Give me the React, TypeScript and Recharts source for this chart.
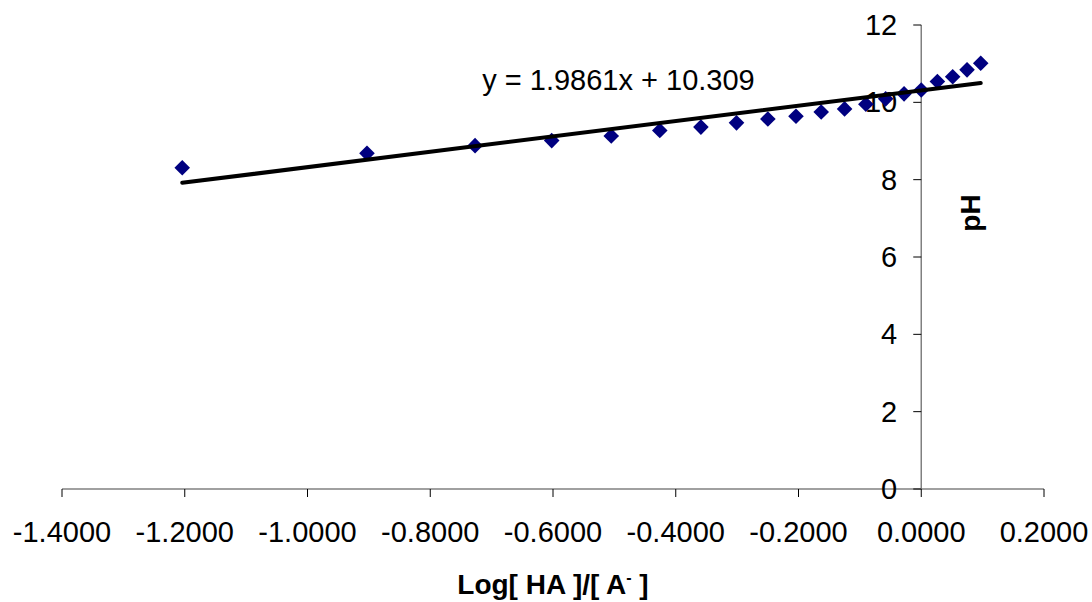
import React from 'react';
import { ScatterChart, Scatter, XAxis, YAxis, ReferenceLine, ReferenceDot, Label } from 'recharts';

const logRatio = [-1.2041, -0.9031, -0.727, -0.6021, -0.5051, -0.426, -0.359, -0.301, -0.2499, -0.2041, -0.163, -0.1249, -0.0902, -0.058, -0.028, 0.0, 0.0263, 0.0512, 0.0746, 0.0969];
const pHValues = [8.31, 8.68, 8.88, 9.01, 9.13, 9.27, 9.36, 9.47, 9.57, 9.64, 9.75, 9.83, 9.95, 10.09, 10.22, 10.32, 10.54, 10.66, 10.84, 11.01];
const trendX = [-1.2041, 0.0969];
const trendY = [7.918, 10.501];
const xTicks = [-1.4, -1.2, -1.0, -0.8, -0.6, -0.4, -0.2, 0, 0.2];
const yTicks = [0, 2, 4, 6, 8, 10, 12];
const equationText = 'y = 1.9861x + 10.309';
const equationPos = { x: -0.7153, y: 10.32 };

const FONT = '"Liberation Sans", Arial, sans-serif';

const points = logRatio.map((x, i) => ({ x, y: pHValues[i] }));
const trend = trendX.map((x, i) => ({ x, y: trendY[i] }));

const Diamond = (props: any) => {
  const { cx, cy } = props;
  const r = 7.8;
  return <path d={`M${cx},${cy - r}L${cx + r},${cy}L${cx},${cy + r}L${cx - r},${cy}Z`} fill="#000080" />;
};

const NoShape = () => null;

const XTitle = (props: any) => {
  const vb = props.viewBox;
  return (
    <text x={vb.x + vb.width / 2} y={vb.y + 105} textAnchor="middle" fontFamily={FONT} fontWeight="bold" fontSize={28} fill="#000">
      Log[ HA ]/[ A<tspan dy={-11} fontSize={16}>-</tspan><tspan dy={11}> ]</tspan>
    </text>
  );
};

const YTitle = (props: any) => {
  const vb = props.viewBox;
  const x = vb.x + 49;
  const y = vb.y + 188;
  return (
    <text x={x} y={y} transform={`rotate(-90, ${x}, ${y})`} textAnchor="middle" dominantBaseline="central" fontFamily={FONT} fontWeight="bold" fontSize={28} fill="#000">
      pH
    </text>
  );
};

const makeYTick = (v: number) => (p: any) => (
  <g>
    <line x1={p.cx - 8} y1={p.cy} x2={p.cx} y2={p.cy} stroke="#000" strokeWidth={1} />
    <text x={p.cx - 24} y={p.cy} textAnchor="end" dominantBaseline="central" fontFamily={FONT} fontSize={29} fill="#000">
      {v}
    </text>
  </g>
);

const Equation = (p: any) => (
  <text x={p.cx} y={p.cy} textAnchor="start" fontFamily={FONT} fontSize={29} fill="#000">
    {equationText}
  </text>
);

export default function App() {
  return (
    <div style={{ position: 'absolute', left: 0, top: 0, background: '#fff' }}>
      <ScatterChart width={1092} height={602} margin={{ top: 25, right: 48, left: 62, bottom: 0 }}>
        <XAxis
          type="number"
          dataKey="x"
          domain={[-1.4, 0.2]}
          ticks={xTicks}
          interval={0}
          height={113}
          tickSize={8}
          tickMargin={24}
          axisLine={{ stroke: '#808080', strokeWidth: 1.5 }}
          tickLine={{ stroke: '#000', strokeWidth: 1 }}
          tick={{ fontSize: 29, fill: '#000', fontFamily: FONT }}
          tickFormatter={(v: number) => v.toFixed(4)}
        >
          <Label content={XTitle} />
        </XAxis>
        <YAxis type="number" dataKey="y" domain={[0, 12]} ticks={yTicks} hide width={0} />
        <ReferenceLine x={0} stroke="#808080" strokeWidth={1.5} label={YTitle} />
        {yTicks.map((v) => (
          <ReferenceDot key={v} x={0} y={v} r={0} ifOverflow="visible" shape={makeYTick(v)} />
        ))}
        <Scatter data={points} shape={Diamond} isAnimationActive={false} />
        <Scatter data={trend} shape={NoShape} line={{ stroke: '#000', strokeWidth: 4, strokeLinecap: 'round' }} isAnimationActive={false} />
        <ReferenceDot x={equationPos.x} y={equationPos.y} r={0} ifOverflow="visible" shape={Equation} />
      </ScatterChart>
    </div>
  );
}
